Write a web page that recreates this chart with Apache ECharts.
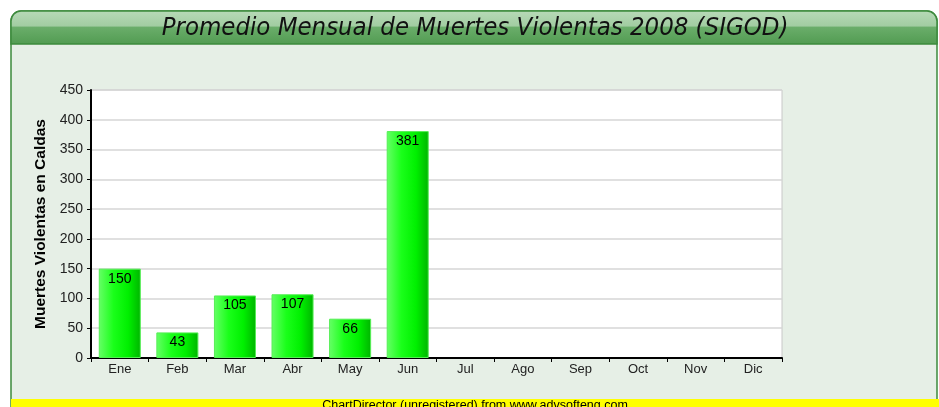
<!DOCTYPE html>
<html>
<head>
<meta charset="utf-8">
<script src="https://cdn.jsdelivr.net/npm/echarts@6/dist/echarts.min.js"></script>
<style>
  html, body { margin: 0; padding: 0; background: #ffffff; }
  #chart { width: 939px; height: 407px; }
</style>
</head>
<body>
<div id="chart"></div>
<script>
// Monthly averages of violent deaths, 2008
const months = ['Ene', 'Feb', 'Mar', 'Abr', 'May', 'Jun', 'Jul', 'Ago', 'Sep', 'Oct', 'Nov', 'Dic'];
const deaths = [150, 43, 105, 107, 66, 381, null, null, null, null, null, null];
const yTicks = { min: 0, max: 450, interval: 50 };
const titleText = 'Promedio Mensual de Muertes Violentas 2008 (SIGOD)';
const yAxisTitle = 'Muertes Violentas en Caldas';
const footerText = 'ChartDirector (unregistered) from www.advsofteng.com';

const chart = echarts.init(document.getElementById('chart'), null, { renderer: 'canvas' });

const barFill = new echarts.graphic.LinearGradient(0, 0, 1, 0, [
  { offset: 0, color: '#66ff66' },
  { offset: 0.35, color: '#1aff1a' },
  { offset: 0.7, color: '#00f000' },
  { offset: 1, color: '#00b400' }
]);

const baseFont = '"Liberation Sans", Arial, sans-serif';

chart.setOption({
  animation: false,
  backgroundColor: '#ffffff',
  graphic: [
    // panel background and frame
    {
      type: 'rect', z: -10, silent: true,
      shape: { x: 11, y: 11, width: 926, height: 400, r: [10, 10, 0, 0] },
      style: { fill: '#e6efe6', stroke: '#3d8a3d', lineWidth: 1.5 }
    },
    // title bar
    {
      type: 'rect', z: -9, silent: true,
      shape: { x: 11, y: 11, width: 926, height: 33, r: [10, 10, 0, 0] },
      style: {
        fill: new echarts.graphic.LinearGradient(0, 0, 0, 1, [
          { offset: 0, color: '#b8dab8' },
          { offset: 0.45, color: '#a2cda2' },
          { offset: 0.5, color: '#6aad6a' },
          { offset: 1, color: '#519b51' }
        ]),
        stroke: '#3d8a3d', lineWidth: 1.5
      }
    },
    {
      type: 'text', z: 10, silent: true,
      x: 475, y: 15,
      style: {
        text: titleText,
        font: 'italic 25.5px "DejaVu Sans Condensed", "DejaVu Sans", sans-serif',
        fill: '#111111',
        align: 'center',
        verticalAlign: 'top'
      }
    },
    // footer band
    {
      type: 'rect', z: 20, silent: true,
      shape: { x: 11, y: 399, width: 928, height: 8 },
      style: { fill: '#ffff00' }
    },
    {
      type: 'text', z: 21, silent: true,
      x: 475, y: 399,
      style: {
        text: footerText,
        font: '12.5px ' + baseFont,
        fill: '#000000',
        align: 'center',
        verticalAlign: 'top'
      }
    }
  ],
  grid: {
    left: 91, right: 157, top: 90, bottom: 49,
    show: true, backgroundColor: '#ffffff', borderColor: '#c8c8c8', borderWidth: 1
  },
  xAxis: {
    type: 'category',
    data: months,
    boundaryGap: true,
    axisLine: { lineStyle: { color: '#000000', width: 2 } },
    axisTick: { show: true, length: 4, lineStyle: { color: '#000000', width: 1 } },
    axisLabel: { color: '#222222', fontSize: 13, margin: 5, fontFamily: baseFont },
    splitLine: { show: false }
  },
  yAxis: {
    type: 'value',
    min: yTicks.min, max: yTicks.max, interval: yTicks.interval,
    name: yAxisTitle,
    nameLocation: 'middle',
    nameGap: 41,
    nameRotate: 90,
    nameTextStyle: { color: '#000000', fontSize: 15.5, fontWeight: 'bold', fontFamily: baseFont },
    axisLine: { show: true, lineStyle: { color: '#000000', width: 2 } },
    axisTick: { show: true, length: 4, lineStyle: { color: '#000000', width: 1 } },
    axisLabel: { color: '#222222', fontSize: 14, margin: 8, fontFamily: baseFont },
    splitLine: { show: true, lineStyle: { color: '#d6d6d6', width: 1.5 } }
  },
  series: [{
    type: 'bar',
    data: deaths,
    barWidth: '73%',
    itemStyle: { color: barFill, borderColor: '#55ee55', borderWidth: 1 },
    label: {
      show: true,
      position: 'insideTop',
      distance: 3,
      color: '#000000',
      fontSize: 14,
      fontFamily: baseFont
    }
  }]
});
</script>
</body>
</html>
